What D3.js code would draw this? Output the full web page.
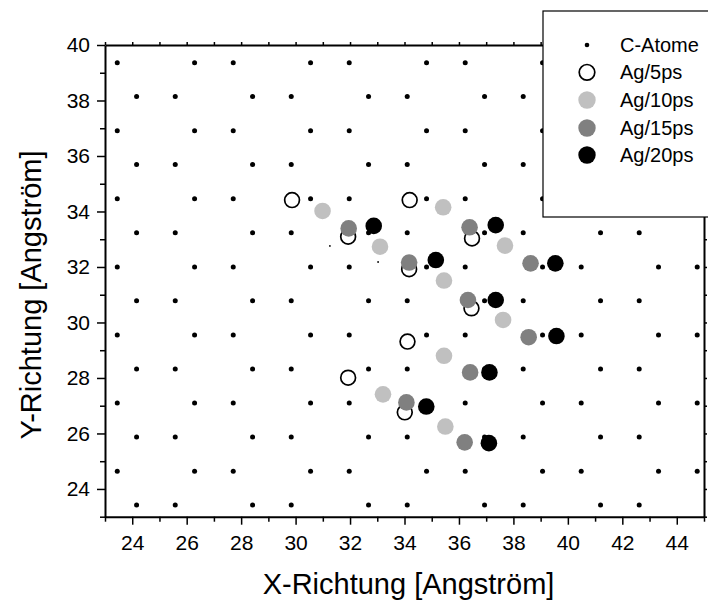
<!DOCTYPE html>
<html>
<head>
<meta charset="utf-8">
<script src="https://cdn.jsdelivr.net/npm/d3@7"></script>
<style>
  html, body { margin: 0; padding: 0; background: #fff; }
  svg { display: block; }
  text { font-family: "Liberation Sans", Arial, sans-serif; fill: #000; }
</style>
</head>
<body>
<svg id="chart" width="708" height="600"></svg>
<script>
// ---- Data ----
// Carbon lattice: two kinds of rows with their y values and x positions
const cRowsA_Y = [39.36, 36.91, 34.46, 32.00, 29.55, 27.10, 24.64];
const cRowsB_Y = [38.14, 35.69, 33.23, 30.78, 28.32, 25.87, 23.42];
const cRowA_X = [23.45, 26.29, 27.71, 30.55, 31.97, 34.81, 36.23, 39.07, 40.49, 43.33, 44.75];
const cRowB_X = [24.16, 25.58, 28.42, 29.84, 32.68, 34.10, 36.94, 38.36, 41.20, 42.62];

// small specks
const specksX = [31.26, 33.03];
const specksY = [32.76, 32.18];

// Ag atoms
const ag5X  = [29.87, 34.19, 31.93, 36.48, 34.17, 36.46, 34.11, 31.93, 34.01];
const ag5Y  = [34.41, 34.41, 33.09, 33.03, 31.92, 30.51, 29.31, 28.01, 26.76];
const ag10X = [30.99, 35.42, 33.10, 37.69, 35.45, 37.62, 35.45, 33.21, 35.50];
const ag10Y = [34.02, 34.15, 32.73, 32.77, 31.51, 30.09, 28.80, 27.41, 26.25];
const ag15X = [31.95, 36.39, 34.17, 38.63, 36.33, 38.56, 36.41, 34.07, 36.21];
const ag15Y = [33.39, 33.43, 32.16, 32.13, 30.81, 29.47, 28.20, 27.12, 25.68];
const ag20X = [32.87, 37.35, 35.15, 39.54, 37.35, 39.58, 37.12, 34.80, 37.10];
const ag20Y = [33.48, 33.51, 32.25, 32.13, 30.81, 29.51, 28.20, 26.97, 25.65];

const xTicks = [24, 26, 28, 30, 32, 34, 36, 38, 40, 42, 44];
const yTicks = [24, 26, 28, 30, 32, 34, 36, 38, 40];
const xMinor = [23, 25, 27, 29, 31, 33, 35, 37, 39, 41, 43, 45];
const yMinor = [23, 25, 27, 29, 31, 33, 35, 37, 39];

const legendLabels = ["C-Atome", "Ag/5ps", "Ag/10ps", "Ag/15ps", "Ag/20ps"];

// ---- Drawing ----
const svg = d3.select("#chart");
const x = d3.scaleLinear().domain([23, 45]).range([105, 704]);
const y = d3.scaleLinear().domain([23, 40]).range([516.7, 45]);

const plot = svg.append("g");

// carbon atoms
const cPts = [];
cRowsA_Y.forEach(yy => cRowA_X.forEach(xx => cPts.push([xx, yy])));
cRowsB_Y.forEach(yy => cRowB_X.forEach(xx => cPts.push([xx, yy])));
plot.selectAll("circle.c").data(cPts).join("circle")
  .attr("class", "c")
  .attr("cx", d => x(d[0])).attr("cy", d => y(d[1]))
  .attr("r", 2.5).attr("fill", "#000");

plot.selectAll("circle.speck").data(d3.zip(specksX, specksY)).join("circle")
  .attr("class", "speck")
  .attr("cx", d => x(d[0])).attr("cy", d => y(d[1]))
  .attr("r", 0.9).attr("fill", "#000");

const series = [
  {xs: ag5X,  ys: ag5Y,  fill: "none",    stroke: "#000", r: 7.4, sw: 1.7},
  {xs: ag10X, ys: ag10Y, fill: "#c0c0c0", stroke: "none", r: 8.3, sw: 0},
  {xs: ag15X, ys: ag15Y, fill: "#808080", stroke: "none", r: 8.3, sw: 0},
  {xs: ag20X, ys: ag20Y, fill: "#000000", stroke: "none", r: 8.3, sw: 0}
];
series.forEach((s, i) => {
  plot.append("g").selectAll("circle").data(d3.zip(s.xs, s.ys)).join("circle")
    .attr("cx", d => x(d[0])).attr("cy", d => y(d[1]))
    .attr("r", s.r).attr("fill", s.fill)
    .attr("stroke", s.stroke).attr("stroke-width", s.sw);
});

// axes
function styleAxis(g) {
  g.select(".domain").attr("stroke", "#000").attr("stroke-width", 2);
  g.selectAll(".tick line").attr("stroke", "#000").attr("stroke-width", 1.5);
}
const fs = 21;
const xAxis = svg.append("g").attr("transform", "translate(0,516.7)")
  .call(d3.axisBottom(x).tickValues(xTicks).tickSize(8).tickSizeOuter(0).tickPadding(10).tickFormat(d3.format("d")));
styleAxis(xAxis);
xAxis.selectAll("text").attr("font-size", fs).attr("font-family", "Liberation Sans, Arial, sans-serif");
svg.append("g").attr("transform", "translate(0,516.7)")
  .call(d3.axisBottom(x).tickValues(xMinor).tickSize(5).tickSizeOuter(0).tickFormat(""))
  .call(g => { g.select(".domain").remove(); g.selectAll("line").attr("stroke", "#000").attr("stroke-width", 1.5); });

const yAxis = svg.append("g").attr("transform", "translate(105,0)")
  .call(d3.axisLeft(y).tickValues(yTicks).tickSize(8).tickSizeOuter(0).tickPadding(7).tickFormat(d3.format("d")));
styleAxis(yAxis);
yAxis.selectAll("text").attr("font-size", fs).attr("font-family", "Liberation Sans, Arial, sans-serif");
svg.append("g").attr("transform", "translate(105,0)")
  .call(d3.axisLeft(y).tickValues(yMinor).tickSize(5).tickSizeOuter(0).tickFormat(""))
  .call(g => { g.select(".domain").remove(); g.selectAll("line").attr("stroke", "#000").attr("stroke-width", 1.5); });

// top and right axes with small outward ticks
const topAxis = svg.append("g").attr("transform", "translate(0,45)")
  .call(d3.axisTop(x).tickValues(xTicks.concat(xMinor)).tickSize(3).tickSizeOuter(0).tickFormat(""));
styleAxis(topAxis);
const rightAxis = svg.append("g").attr("transform", "translate(704,0)")
  .call(d3.axisRight(y).tickValues(yTicks.concat(yMinor)).tickSize(3).tickSizeOuter(0).tickFormat(""));
styleAxis(rightAxis);

// axis titles
svg.append("text").attr("x", 408.5).attr("y", 594).attr("text-anchor", "middle")
  .attr("font-size", 29).text("X-Richtung [Angström]");
svg.append("text").attr("transform", "translate(40.5,295) rotate(-90)").attr("text-anchor", "middle")
  .attr("font-size", 29).text("Y-Richtung [Angström]");

// legend
const lg = svg.append("g");
lg.append("rect").attr("x", 543).attr("y", 11).attr("width", 200).attr("height", 206)
  .attr("fill", "#fff").attr("stroke", "#000").attr("stroke-width", 1.2);
const rowsY = [45, 72.3, 100, 128, 155];
const legSym = [
  {fill: "#000", stroke: "none", r: 2.3, sw: 0},
  {fill: "none", stroke: "#000", r: 7.8, sw: 1.7},
  {fill: "#c0c0c0", stroke: "none", r: 8.7, sw: 0},
  {fill: "#808080", stroke: "none", r: 8.7, sw: 0},
  {fill: "#000", stroke: "none", r: 8.7, sw: 0}
];
legendLabels.forEach((lab, i) => {
  lg.append("circle").attr("cx", 587).attr("cy", rowsY[i]).attr("r", legSym[i].r)
    .attr("fill", legSym[i].fill).attr("stroke", legSym[i].stroke).attr("stroke-width", legSym[i].sw);
  lg.append("text").attr("x", 620).attr("y", rowsY[i]).attr("dy", "0.35em")
    .attr("font-size", 20).text(lab);
});
</script>
</body>
</html>
